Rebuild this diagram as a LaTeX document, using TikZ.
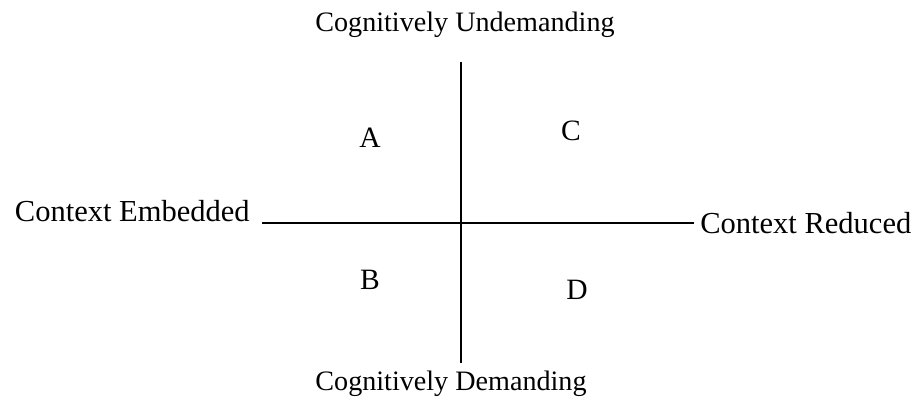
\documentclass[tikz,border=0pt]{standalone}
\usepackage{fontspec}
\setmainfont{Liberation Serif}
\usetikzlibrary{positioning}

\begin{document}
\begin{tikzpicture}[x=0.025cm,y=-0.025cm,
    axislabel/.style={inner sep=0,font=\fontsize{20}{24}\selectfont},
    sidelabel/.style={inner sep=0,font=\fontsize{21.7}{26}\selectfont},
    quadrant/.style={inner sep=0,font=\fontsize{21}{25}\selectfont},
    axisline/.style={line width=1.3pt}]
          \useasboundingbox (0,0) rectangle (913,400);
          % ends of the two axes
          \coordinate (vtop) at (461,62);
          \coordinate (vbottom) at (461,363);
          \coordinate (hleft) at (262,223);
          \coordinate (hright) at (694,223);
          % the axes
          \draw[axisline] (vtop) -- (vbottom);
          \draw[axisline] (hleft) -- (hright);
          % labels of the axes
          \node[axislabel,anchor=base] (undemanding) at (465,32) {Cognitively Undemanding};
          \node[axislabel,anchor=base] (demanding) at (451,390) {Cognitively Demanding};
          \node[sidelabel,anchor=base east] (embedded) at (250,222) {Context Embedded};
          \node[sidelabel,right=0.15cm of hright] (reduced) {Context Reduced};
          % the four quadrants
          \node[quadrant] (A) at (370,138) {A};
          \node[quadrant] (C) at (571,131) {C};
          \node[quadrant] (B) at (370,280) {B};
          \node[quadrant] (D) at (577,290) {D};
        \end{tikzpicture}
\end{document}
